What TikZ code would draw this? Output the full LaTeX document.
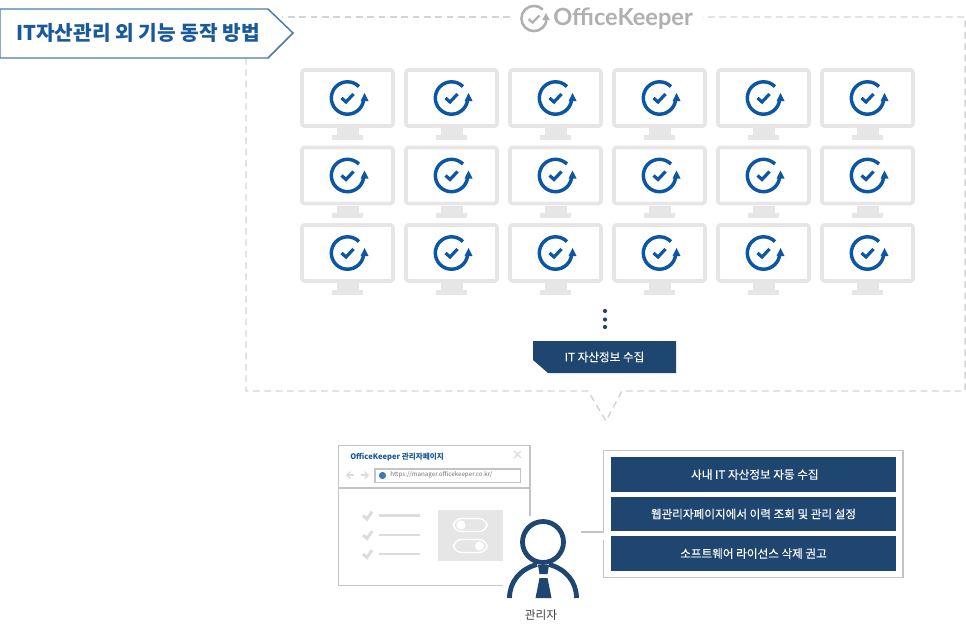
\documentclass[tikz,border=0pt]{standalone}
\usepackage{fontspec}
\usetikzlibrary{arrows.meta}
\setmainfont{Noto Sans CJK KR}
\newfontfamily\medkr[FakeBold=0.2]{Noto Sans CJK KR}
\newfontfamily\latinlogo{Lato}
\definecolor{navy}{HTML}{1F4670}
\definecolor{iconblue}{HTML}{0B57A4}
\definecolor{headblue}{HTML}{1A5A9A}
\definecolor{headline}{HTML}{4A7BA8}
\definecolor{mongray}{HTML}{E6E6E6}
\definecolor{dashgray}{HTML}{D4D4D4}
\definecolor{framegray}{HTML}{C4C4C4}
\definecolor{logogray}{HTML}{B0B0B0}
\definecolor{softgray}{HTML}{DCDCDC}
\tikzset{
  dashframe/.style={draw=dashgray,line width=1.1pt,dash pattern=on 5pt off 3.5pt},
  barbox/.style={fill=navy,draw=none,minimum width=214pt,minimum height=26pt,inner sep=0pt,text=white,font=\medkr\fontsize{8.7}{11}\selectfont},
  frameline/.style={draw=framegray,line width=1.2pt},
  chkline/.style={draw=softgray,line width=1.6pt},
  chkmark/.style={draw=softgray,line width=2.2pt},
  moniconline/.style={draw=iconblue,line width=2.6pt},
  pics/monitor/.style={code={
    \draw[mongray,line width=2.8pt,rounded corners=2pt] (2,2) rectangle (93,58);
    \fill[mongray] (37,60) rectangle (59,67);
    \fill[mongray] (32,67) rectangle (63,72);
    \draw[moniconline] (47.5,30) ++(-45:16.2) arc (-45:-355:16.2);
    \fill[iconblue] (64.5,25) -- (68.5,33) -- (60.5,33) -- cycle;
    \draw[iconblue,line width=2.4pt] (41.5,30) -- (46,34) -- (53.5,26);
  }}
}
\begin{document}
\begin{tikzpicture}[x=0.75pt,y=-0.75pt]
\useasboundingbox (0,0) rectangle (966,625);
\fill[white] (0,0) rectangle (966,625);

% dashed frame
\draw[dashframe] (510,17) -- (282,17);
\draw[dashframe] (246,58) -- (246,391) -- (588,391) -- (606,421) -- (622,391) -- (965,391) -- (965,17) -- (703,17);

% logo
\draw[logogray,line width=1.9pt] (534,18.5) ++(-45:12.6) arc (-45:-352:12.6);
\fill[logogray] (546,13) -- (549.7,20) -- (542.3,20) -- cycle;
\draw[logogray,line width=1.7pt] (528.5,19) -- (532.5,22.5) -- (539.5,15.5);
\node[anchor=west,inner sep=0pt,text=logogray] (logo) at (553,19) {\latinlogo\bfseries\fontsize{17.7}{20}\selectfont OfficeKeeper};

% header
\draw[draw=headline,fill=white,line width=1.1pt] (0,9) -- (268,9) -- (293,33) -- (268,58) -- (0,58) -- cycle;
\node[anchor=west,inner sep=0pt,text=headblue] (head) at (16,33) {\bfseries\fontsize{15.2}{17}\selectfont IT자산관리 외 기능 동작 방법};

% monitors
\foreach \row/\yy in {a/68,b/145.5,c/223}
  \foreach \col/\xx in {1/300,2/404,3/508,4/612,5/716,6/820}
    \pic (mon\row\col) at (\xx,\yy) {monitor};

% dots
\foreach \n/\yy in {a/311,b/319.5,c/327}
  \fill[navy] (605,\yy) circle (2.1);

% collect label
\fill[navy] (533,341) -- (676,341) -- (676,373) -- (548,373) -- (533,360) -- cycle;
\node[text=white,inner sep=0pt,font=\medkr\fontsize{8.7}{11}\selectfont] (collect) at (604.5,357) {IT 자산정보 수집};

% browser window
\draw[draw=framegray,line width=1.3pt] (530,516) -- (530,445.5) -- (338.5,445.5) -- (338.5,585.5) -- (503,585.5);
\draw[draw=framegray,line width=1pt] (338.5,488) -- (530,488);
\node[anchor=west,inner sep=0pt,text=headblue,font=\bfseries\fontsize{5.7}{8}\selectfont] (wintitle) at (350,457) {OfficeKeeper 관리자페이지};
\draw[softgray,line width=1pt] (514,451) -- (521,458) (521,451) -- (514,458);
\draw[softgray,line width=1pt,-{Straight Barb[length=2.5pt]}] (354,475) -- (346,475);
\draw[softgray,line width=1pt,-{Straight Barb[length=2.5pt]}] (361,475) -- (369,475);
\draw[framegray,line width=0.8pt] (375,469) rectangle (520.5,482.5);
\fill[iconblue!80] (382.5,475.5) circle (3.6);
\node[anchor=west,inner sep=0pt,text=black!55,font=\fontsize{4.65}{6}\selectfont] (url) at (390,475) {https://manager.officekeeper.co.kr/};
\foreach \yy in {515.5,535,554}{
  \draw[chkmark] (363,\yy) -- (367,\yy+3.5) -- (372,\yy-4);
  \draw[chkline] (379,\yy) -- (420,\yy);
}
\fill[mongray] (438,509.5) rectangle (503,561);
\draw[white,line width=1pt,rounded corners=6pt] (453.5,518.5) rectangle (487,531.5);
\fill[white] (461,525) circle (4.6);
\draw[white,line width=1pt,rounded corners=6pt] (453.5,539.5) rectangle (487,552.5);
\fill[white] (479.5,546) circle (4.6);

% person
\draw[navy,line width=3.6pt] (543,542) circle (20.5);
\draw[navy,line width=3.6pt] (509.5,598) .. controls (509.5,582) and (520,569) .. (537,564.5);
\draw[navy,line width=3.6pt] (576.5,598) .. controls (576.5,582) and (566,569) .. (549,564.5);
\fill[navy] (538,565) -- (549,565) -- (547.5,574) -- (539.5,574) -- cycle;
\fill[navy] (539.5,578) -- (547.5,578) -- (551.5,598) -- (535.5,598) -- cycle;
\node[inner sep=0pt,text=black!75,font=\fontsize{8.8}{11}\selectfont] (admin) at (541,615) {관리자};

% feature frame
\coordinate (joint) at (603.5,532);
\coordinate (free) at (581,532);
\draw[frameline] (free) -- (joint) -- (603.5,450.5) -- (903,450.5) -- (903,577.5) -- (603.5,577.5) -- (603.5,540);
\node[barbox] (bar1) at (753.5,474.5) {\hspace{2pt}사내 IT 자산정보 자동 수집};
\node[barbox] (bar2) at (753.5,514) {웹관리자페이지에서 이력 조회 및 관리 설정};
\node[barbox] (bar3) at (753.5,553.5) {소프트웨어 라이선스 삭제 권고};
\end{tikzpicture}
\end{document}
